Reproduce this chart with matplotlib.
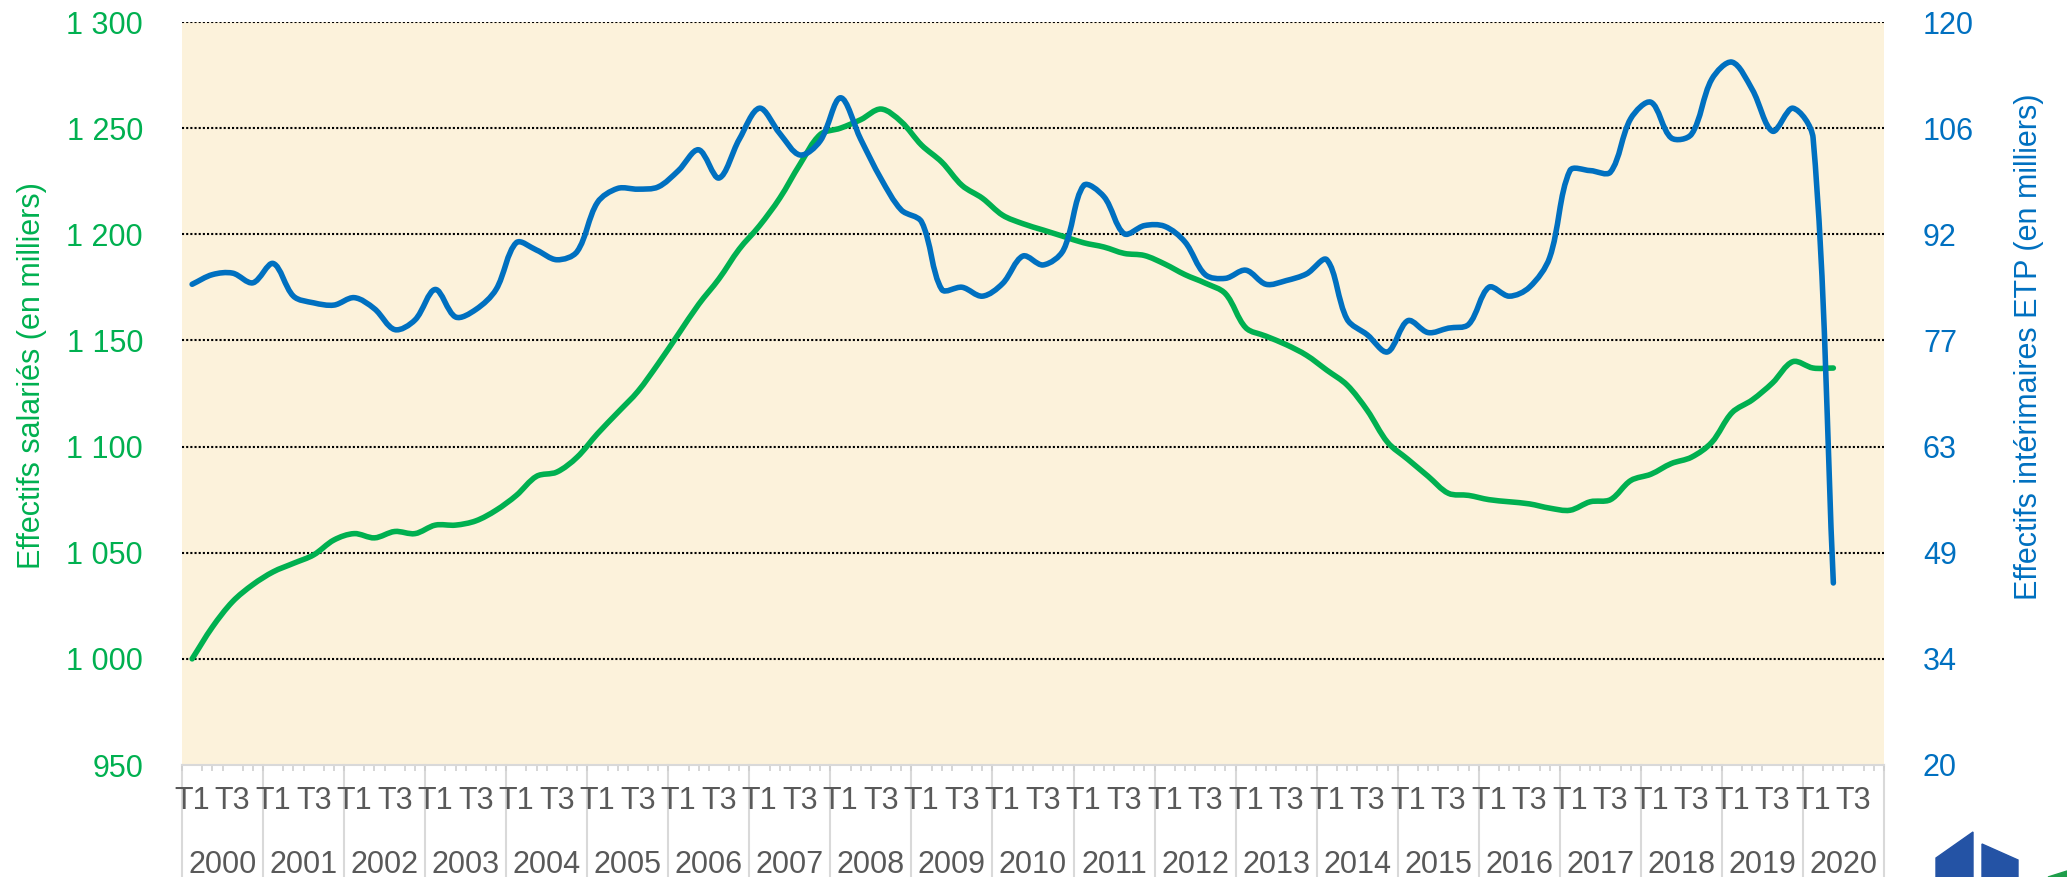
import numpy as np
import matplotlib
matplotlib.use("Agg")
import matplotlib.pyplot as plt
import matplotlib.transforms as mtransforms
from matplotlib.patches import Polygon, PathPatch
from matplotlib.path import Path

plt.rcParams['font.family'] = ['Liberation Sans', 'DejaVu Sans']

# quarterly data, 2000 T1 -> 2020 T2
salaries = [1000, 1015, 1027, 1035, 1041, 1045, 1049, 1056, 1059, 1057,
            1060, 1059, 1063, 1063, 1065, 1070, 1077, 1086, 1088, 1095,
            1106, 1116, 1126, 1139, 1153, 1167, 1179, 1193, 1204, 1217,
            1233, 1247, 1250, 1254, 1259, 1253, 1242, 1234, 1223, 1217,
            1209, 1205, 1202, 1199, 1196, 1194, 1191, 1190, 1186, 1181,
            1177, 1172, 1156, 1152, 1148, 1143, 1136, 1129, 1117, 1102,
            1094, 1086, 1078, 1077, 1075, 1074, 1073, 1071, 1070, 1074,
            1075, 1084, 1087, 1092, 1095, 1102, 1116, 1122, 1130, 1140,
            1137, 1137]
interim = [84.7, 86.0, 86.2, 84.9, 87.5, 83.1, 82.2, 81.9, 82.9, 81.4,
           78.6, 79.9, 84.0, 80.3, 81.3, 84.0, 90.3, 89.3, 88.0, 89.1,
           95.7, 97.6, 97.5, 97.8, 100.0, 102.8, 99.0, 104.2, 108.4, 105.0,
           102.1, 104.0, 109.8, 104.2, 98.9, 94.7, 93.1, 84.0, 84.3, 83.1,
           84.8, 88.5, 87.3, 89.3, 98.0, 96.5, 91.5, 92.6, 92.5, 90.4,
           86.0, 85.5, 86.6, 84.7, 85.2, 86.1, 88.0, 80.0, 77.9, 75.6,
           79.8, 78.2, 78.8, 79.3, 84.3, 83.1, 84.3, 88.3, 100.0, 100.0,
           99.8, 107.0, 109.2, 104.4, 104.9, 112.3, 114.6, 110.9, 105.3, 108.4,
           104.4, 44.5]
years = list(range(2000, 2021))
left_ticks = [950, 1000, 1050, 1100, 1150, 1200, 1250, 1300]
left_labels = ["950", "1 000", "1 050", "1 100", "1 150", "1 200", "1 250", "1 300"]
right_labels = ["20", "34", "49", "63", "77", "92", "106", "120"]

GREEN = '#00B050'
BLUE = '#0070C0'
GREY = '#595959'


def smooth_path(axis, xs, ys):
    # excel-like smoothed line, handles scaled by chord length (in pixels)
    pts = axis.transData.transform(np.column_stack([xs, ys]))
    n = len(pts)
    verts = [pts[0]]
    codes = [Path.MOVETO]
    for i in range(n - 1):
        p0 = pts[i - 1] if i > 0 else pts[i]
        p1 = pts[i]
        p2 = pts[i + 1]
        p3 = pts[i + 2] if i + 2 < n else pts[i + 1]
        d01 = np.hypot(*(p1 - p0))
        d12 = np.hypot(*(p2 - p1))
        d23 = np.hypot(*(p3 - p2))
        f1 = d12 / (d01 + d12) if d01 + d12 > 0 else 0
        f2 = d12 / (d12 + d23) if d12 + d23 > 0 else 0
        c1 = p1 + (p2 - p0) * f1 / 3.0
        c2 = p2 - (p3 - p1) * f2 / 3.0
        verts += [c1, c2, p2]
        codes += [Path.CURVE4] * 3
    verts = axis.transData.inverted().transform(np.array(verts))
    return Path(verts, codes)


fig = plt.figure(figsize=(20.67, 8.77), dpi=100)
ax = fig.add_axes([182/2067, 1-765/877, 1702/2067, 743/877])
ax.set_facecolor('#FCF2DB')

x = np.arange(len(salaries))
n_cat = len(years) * 4
ax.set_xlim(-0.5, n_cat - 0.5)
ax.set_ylim(950, 1300)

# dotted grid
for v in left_ticks[1:]:
    ax.axhline(v, color='black', lw=1.5, ls=(0, (1, 1)), zorder=1)

ax.set_yticks(left_ticks)
ax.set_yticklabels(left_labels)
ax.tick_params(axis='y', length=0, pad=28, labelsize=22, labelcolor=GREEN)

for s in ['top', 'right', 'left']:
    ax.spines[s].set_visible(False)
ax.spines['bottom'].set_color('#D9D9D9')
ax.spines['bottom'].set_linewidth(1.5)

# x axis: T1 / T3 labels
tpos = []
tlab = []
for k in range(len(years)):
    tpos += [4*k, 4*k + 2]
    tlab += ['T1', 'T3']
ax.set_xticks(tpos)
ax.set_xticklabels(tlab)
ax.set_xticks(np.arange(-0.5, n_cat, 0.5), minor=True)
ax.tick_params(axis='x', which='major', length=0, pad=15, labelsize=22, labelcolor=GREY)
ax.tick_params(axis='x', which='minor', length=4, width=1.2, color='#CFCFCF')

trans = mtransforms.blended_transform_factory(ax.transData, fig.transFigure)
for k in range(len(years) + 1):
    ax.plot([4*k - 0.5, 4*k - 0.5], [0, 1-765/877], transform=trans,
            color='#D9D9D9', lw=1.5, clip_on=False, zorder=0)
for k, yr in enumerate(years):
    ax.text(4*k + 1.5, 1-873/877, str(yr), transform=trans, ha='center',
            va='baseline', fontsize=22, color=GREY)

# right axis
ax2 = ax.twinx()
ax2.set_ylim(20, 120)
ax2.set_yticks(np.linspace(20, 120, len(right_labels)))
ax2.set_yticklabels(right_labels)
ax2.tick_params(axis='y', length=0, pad=28, labelsize=22, labelcolor=BLUE)
for s in ['top', 'right', 'left', 'bottom']:
    ax2.spines[s].set_visible(False)

ax.add_patch(PathPatch(smooth_path(ax, x, salaries), facecolor='none', edgecolor=GREEN,
                       lw=4, capstyle='round', joinstyle='round', zorder=3))
ax2.add_patch(PathPatch(smooth_path(ax2, x, interim), facecolor='none', edgecolor=BLUE,
                        lw=4, capstyle='round', joinstyle='round', zorder=3))

fig.text(32/2067, 1-376/877, 'Effectifs salariés (en milliers)', rotation=90,
         ha='center', va='center', fontsize=22, color=GREEN)
fig.text(2029/2067, 1-347/877, 'Effectifs intérimaires ETP (en milliers)', rotation=90,
         ha='center', va='center', fontsize=22, color=BLUE)

# logo in the corner
W, H = 2067, 877
def px(pts):
    return [(a/W, 1-b/H) for a, b in pts]
fig.add_artist(Polygon(px([(1936, 858), (1973, 832), (1973, 877), (1936, 877)]),
                       closed=True, color='#2453A5', transform=fig.transFigure))
fig.add_artist(Polygon(px([(1982, 844), (2018, 860), (2018, 877), (1982, 877)]),
                       closed=True, color='#2453A5', transform=fig.transFigure))
fig.add_artist(Polygon(px([(2048, 877), (2067, 871), (2067, 877)]),
                       closed=True, color='#1E9E4A', transform=fig.transFigure))

fig.savefig('out.png', dpi=100)
